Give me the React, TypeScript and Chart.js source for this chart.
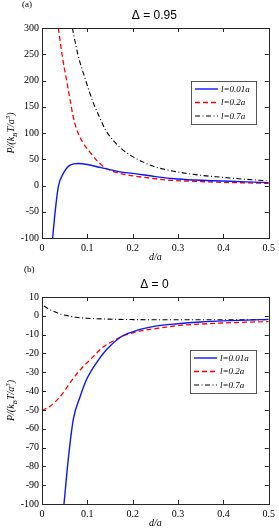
import React, { useEffect, useRef } from "react";
import { Chart, registerables } from "chart.js";
Chart.register(...registerables);

// ---------- data ----------
const seriesLabels = ["l=0.01a", "l=0.2a", "l=0.7a"];
const seriesColors = ["#0a14ff", "#ff0000", "#000000"];

// Panel (a): Δ = 0.95
const aBlueX = [0.0235, 0.0286, 0.036, 0.047, 0.062, 0.08, 0.1, 0.13, 0.172, 0.2, 0.25, 0.3, 0.35, 0.4, 0.45, 0.5];
const aBlueY = [-100, -53, -2, 23, 39, 42, 40, 34, 26, 23, 17, 12.5, 10, 8.5, 7, 5.5];
const aRedX = [0.036, 0.045, 0.054, 0.062, 0.069, 0.076, 0.09, 0.106, 0.125, 0.139, 0.16, 0.19, 0.23, 0.282, 0.35, 0.4, 0.45, 0.5];
const aRedY = [300, 245, 201, 163, 130, 108, 82, 63, 44, 34, 26, 20, 15, 10, 7.5, 6, 5, 4];
const aBlackX = [0.067, 0.079, 0.096, 0.112, 0.128, 0.14, 0.158, 0.178, 0.2, 0.222, 0.247, 0.28, 0.319, 0.355, 0.392, 0.44, 0.495];
const aBlackY = [300, 250, 201, 160, 128, 106, 85, 68, 55, 45, 36, 29, 23, 19, 16, 12.5, 9];

// Panel (b): Δ = 0
const bBlueX = [0.0485, 0.058, 0.069, 0.084, 0.098, 0.12, 0.142, 0.172, 0.2, 0.25, 0.3, 0.35, 0.4, 0.45, 0.5];
const bBlueY = [-100, -76, -55, -43, -34, -25, -18, -11.5, -8.5, -5.5, -4.2, -3.3, -2.7, -2.3, -1.9];
const bRedX = [0, 0.018, 0.036, 0.051, 0.069, 0.087, 0.113, 0.131, 0.15, 0.172, 0.2, 0.25, 0.3, 0.35, 0.4, 0.45, 0.5];
const bRedY = [-50.4, -48, -44, -39.4, -33.2, -28, -21.7, -17.3, -14.3, -11.5, -9, -6.8, -5.2, -4.4, -3.8, -3.4, -3];
const bBlackX = [0.004, 0.02, 0.04, 0.06, 0.076, 0.1, 0.14, 0.2, 0.3, 0.4, 0.5];
const bBlackY = [5.2, 3, 1, -0.1, -0.8, -1.3, -1.7, -2, -2.1, -2.1, -2];

const xMin = 0, xMax = 0.5, xStep = 0.1;
const aYMin = -100, aYMax = 300, aYStep = 50;
const bYMin = -100, bYMax = 10, bYStep = 10;

const dashes: number[][] = [[], [5, 3], [5, 2.5, 1, 2.5]];
const widths = [1.4, 1.3, 1.1];

function pts(xs: number[], ys: number[]) {
  return xs.map((x, i) => ({ x, y: ys[i] }));
}

const SERIF = '"Liberation Serif", "DejaVu Serif", serif';
const SANS = '"Liberation Sans", Arial, sans-serif';

const matlabPlugin = {
  id: "matlab",
  afterDraw(chart: any, _args: any, o: any) {
    const { ctx, chartArea: ca, scales } = chart;
    ctx.save();
    // box
    ctx.strokeStyle = "#262626";
    ctx.lineWidth = 1;
    ctx.strokeRect(Math.round(ca.left) + 0.5, Math.round(ca.top) + 0.5, Math.round(ca.right - ca.left), Math.round(ca.bottom - ca.top));
    // inward ticks
    const tl = 4;
    ctx.beginPath();
    for (const t of scales.x.ticks) {
      const px = Math.round(scales.x.getPixelForValue(t.value)) + 0.5;
      ctx.moveTo(px, ca.bottom); ctx.lineTo(px, ca.bottom - tl);
      ctx.moveTo(px, ca.top); ctx.lineTo(px, ca.top + tl);
    }
    for (const t of scales.y.ticks) {
      const py = Math.round(scales.y.getPixelForValue(t.value)) + 0.5;
      ctx.moveTo(ca.left, py); ctx.lineTo(ca.left + tl, py);
      ctx.moveTo(ca.right, py); ctx.lineTo(ca.right - tl, py);
    }
    ctx.stroke();

    // title
    ctx.fillStyle = "#000";
    ctx.font = `12px ${SANS}`;
    ctx.textAlign = "center";
    ctx.textBaseline = "middle";
    ctx.fillText(o.title, (ca.left + ca.right) / 2 - 1, o.titleY);

    // panel label
    ctx.font = `9px ${SERIF}`;
    ctx.textAlign = "left";
    ctx.fillText(o.panel, o.panelX, o.panelY);

    // x axis title
    ctx.font = `italic 10px ${SERIF}`;
    ctx.textAlign = "center";
    ctx.fillText("d/a", (ca.left + ca.right) / 2, o.xTitleY);

    // y axis title with sub/superscripts
    const segs = [
      { t: "P/(k", s: 10, dy: 0 },
      { t: "B", s: 7, dy: 3 },
      { t: "T/a", s: 10, dy: 0 },
      { t: "3", s: 7, dy: -4 },
      { t: ")", s: 10, dy: 0 },
    ];
    let total = 0;
    for (const sg of segs) { ctx.font = `italic ${sg.s}px ${SERIF}`; total += ctx.measureText(sg.t).width; }
    ctx.translate(o.yTitleX, (ca.top + ca.bottom) / 2);
    ctx.rotate(-Math.PI / 2);
    ctx.textAlign = "left";
    ctx.textBaseline = "alphabetic";
    let cx = -total / 2;
    for (const sg of segs) {
      ctx.font = `italic ${sg.s}px ${SERIF}`;
      ctx.fillText(sg.t, cx, 3.5 + sg.dy);
      cx += ctx.measureText(sg.t).width;
    }
    ctx.setTransform(1, 0, 0, 1, 0, 0);

    // legend
    const lb = o.legend;
    ctx.fillStyle = "#fff";
    ctx.fillRect(lb.x, lb.y, lb.w, lb.h);
    ctx.strokeStyle = "#555";
    ctx.lineWidth = 1;
    ctx.strokeRect(lb.x + 0.5, lb.y + 0.5, lb.w, lb.h);
    const rows = [8, 21.5, 35];
    chart.data.datasets.forEach((ds: any, i: number) => {
      const y = lb.y + rows[i];
      ctx.beginPath();
      ctx.strokeStyle = ds.borderColor;
      ctx.lineWidth = ds.borderWidth;
      ctx.setLineDash(ds.borderDash || []);
      ctx.moveTo(lb.x + 4, y);
      ctx.lineTo(lb.x + 27, y);
      ctx.stroke();
      ctx.setLineDash([]);
      ctx.fillStyle = "#000";
      ctx.font = `italic 9px ${SERIF}`;
      ctx.textAlign = "left";
      ctx.textBaseline = "middle";
      ctx.fillText(ds.label, lb.x + 30, y + 0.5);
    });
    ctx.restore();
  },
};

function makeConfig(
  data: { x: number[]; y: number[] }[],
  yMin: number, yMax: number, yStep: number,
  padTop: number, plug: any
) {
  return {
    type: "line",
    data: {
      datasets: data.map((d, i) => ({
        label: seriesLabels[i],
        data: pts(d.x, d.y),
        borderColor: seriesColors[i],
        borderWidth: widths[i],
        borderDash: dashes[i],
        pointRadius: 0,
        fill: false,
        cubicInterpolationMode: "monotone",
      })),
    },
    options: {
      responsive: false,
      maintainAspectRatio: false,
      animation: false,
      devicePixelRatio: 1,
      layout: { padding: { top: padTop, right: 10, left: 0, bottom: 0 } },
      plugins: {
        legend: { display: false },
        title: { display: false },
        tooltip: { enabled: false },
        matlab: plug,
      },
      scales: {
        x: {
          type: "linear",
          min: xMin,
          max: xMax,
          grid: { display: false, drawTicks: false, tickLength: 0 },
          border: { display: false },
          ticks: {
            stepSize: xStep,
            padding: 4,
            color: "#000",
            font: { family: SERIF, size: 10 },
            callback: (v: number) => String(Math.round(v * 10) / 10),
          },
          afterFit: (s: any) => { s.height = 27; },
        },
        y: {
          type: "linear",
          min: yMin,
          max: yMax,
          grid: { display: false, drawTicks: false, tickLength: 0 },
          border: { display: false },
          ticks: {
            stepSize: yStep,
            padding: 3,
            color: "#000",
            font: { family: SERIF, size: 10 },
            callback: (v: number) => String(Math.round(v)),
          },
          afterFit: (s: any) => { s.width = 42; },
        },
      },
    },
    plugins: [matlabPlugin],
  };
}

function Panel(props: { cfg: any; top: number; height: number }) {
  const ref = useRef<HTMLCanvasElement>(null);
  useEffect(() => {
    const c = new Chart(ref.current as HTMLCanvasElement, props.cfg);
    return () => c.destroy();
  }, []);
  return (
    <canvas
      ref={ref}
      width={279}
      height={props.height}
      style={{ position: "absolute", left: 0, top: props.top, width: 279, height: props.height, display: "block" }}
    />
  );
}

export default function App() {
  const cfgA = makeConfig(
    [{ x: aBlueX, y: aBlueY }, { x: aRedX, y: aRedY }, { x: aBlackX, y: aBlackY }],
    aYMin, aYMax, aYStep, 28,
    { title: "Δ = 0.95", titleY: 16, panel: "(a)", panelX: 22, panelY: 5, xTitleY: 257, yTitleX: 10, legend: { x: 191, y: 81, w: 65, h: 43 } }
  );
  const cfgB = makeConfig(
    [{ x: bBlueX, y: bBlueY }, { x: bRedX, y: bRedY }, { x: bBlackX, y: bBlackY }],
    bYMin, bYMax, bYStep, 32,
    { title: "Δ = 0", titleY: 20, panel: "(b)", panelX: 24, panelY: 5, xTitleY: 258, yTitleX: 10, legend: { x: 190, y: 85, w: 66, h: 43 } }
  );
  return (
    <div style={{ position: "absolute", left: 0, top: 0, width: 279, height: 531, background: "#fff" }}>
      <Panel cfg={cfgA} top={0} height={265} />
      <Panel cfg={cfgB} top={265} height={266} />
    </div>
  );
}
